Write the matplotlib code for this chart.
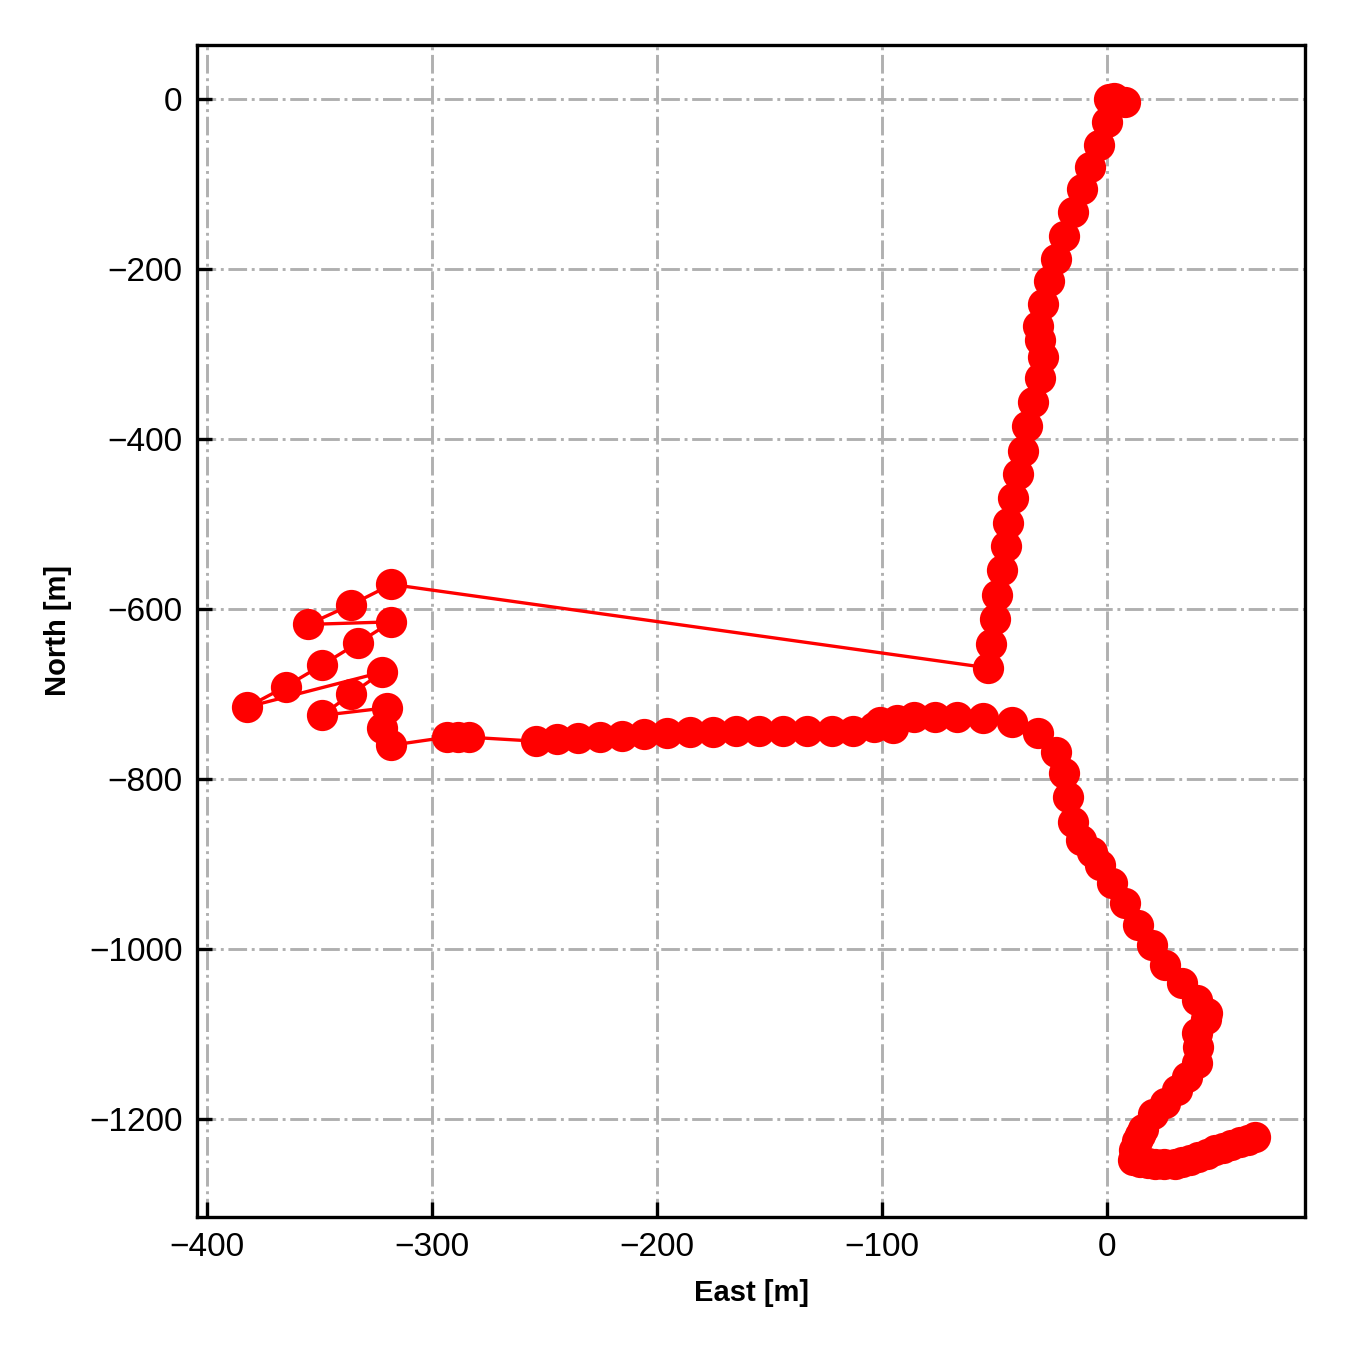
import matplotlib
matplotlib.use("Agg")
import matplotlib.pyplot as plt

plt.rcParams["font.family"] = ["Liberation Sans", "DejaVu Sans"]

# trajectory, East / North in metres
east = [1, 3, 8, 0, -3.6, -7.6, -11, -15, -19, -22.7, -25.8, -28.4, -30.7, -29.8, -28.4,
        -30, -33, -35.6, -37.3, -39.6, -41.8, -44, -45, -46.7, -49, -50, -51.6, -53,
        -318, -336, -355, -318, -333, -349, -365, -382, -322, -336, -349, -320, -322, -318,
        -293.3, -288.4, -283.6, -253.8, -244.4, -235.1, -225.3, -215.6, -205.8, -195.6,
        -185.3, -175.1, -164.9, -154.7, -144, -133.3, -122.2, -112.9, -103.6, -100.9,
        -95, -93.3, -85.8, -76.4, -66.7, -55.1, -42.2, -30.7, -22.7, -19.1, -17.3,
        -15.1, -11.6, -6.7, -3.1, 2.2, 8, 13.8, 20, 25.8, 33.3, 40, 44.4, 44, 40,
        40.4, 40, 35.6, 31.1, 25.8, 20.4, 16, 14.5, 13.3, 12, 11.6, 14.7, 18, 21.3,
        25.5, 30.2, 33.5, 36.9, 40.5, 44.4, 48, 51.6, 55, 59, 62.5, 65.8]
north = [0, 1, -4, -27, -54, -80, -106, -133, -161, -188, -214, -241, -267, -284, -304,
         -328, -356, -385, -414, -441, -469, -499, -526, -554, -584, -612, -641, -669,
         -571, -595, -618, -615, -640, -666, -691, -715, -674, -700, -725, -716, -740, -760,
         -750.6, -750.6, -750.6, -755.3, -753, -751.8, -750.6, -749.4, -747, -745.9,
         -744.7, -744.7, -743.5, -743.5, -743.5, -743.5, -743.5, -743.5, -738.8, -732.9,
         -740, -730.6, -727, -727, -727, -728.2, -732.9, -745.9, -768.2, -793, -821,
         -850.6, -871.8, -885.9, -901.2, -922.4, -945.9, -971.8, -995.3, -1018.8, -1040,
         -1060, -1075.3, -1082, -1098, -1115, -1133, -1150.6, -1165.9, -1181, -1193,
         -1210.6, -1218, -1224.7, -1236, -1248, -1250, -1251, -1251.8, -1252, -1251.8,
         -1250, -1248, -1244, -1240, -1236, -1233, -1230, -1227, -1224, -1221]

fig = plt.figure(figsize=(4.5, 4.5), dpi=300)
ax = fig.add_axes([0.146, 0.0985, 0.821, 0.8685])
ax.plot(east, north, "-o", color="red", lw=0.8, markersize=6.5)
ax.grid(True, color="#b0b0b0", linestyle="-.", linewidth=0.7)
ax.set_axisbelow(True)
ax.tick_params(direction="in", labelsize=8, length=3.5, width=0.8)
for s in ax.spines.values():
    s.set_linewidth(0.8)
ax.set_xlabel("East [m]", fontsize=7, fontweight="bold")
ax.set_ylabel("North [m]", fontsize=7, fontweight="bold")
fig.savefig("out.png", dpi=300)
